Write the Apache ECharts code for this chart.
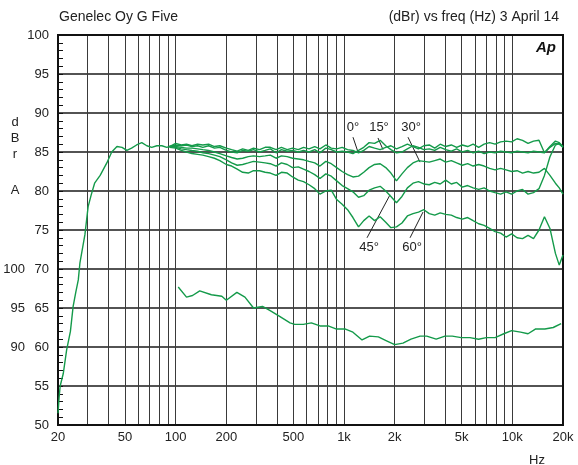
<!DOCTYPE html>
<html>
<head>
<meta charset="utf-8">
<script src="https://cdn.jsdelivr.net/npm/echarts@6/dist/echarts.min.js"></script>
<style>
html,body{margin:0;padding:0;background:#fff;}
#chart{width:578px;height:465px;}
</style>
</head>
<body>
<div id="chart"></div>
<script>
// ---- data ----
const xLabelValues = [20, 50, 100, 200, 500, 1000, 2000, 5000, 10000, 20000];
const xGridValues = [20,30,40,50,60,70,80,90,100,200,300,400,500,600,700,800,900,
  1000,2000,3000,4000,5000,6000,7000,8000,9000,10000,20000];
const secondaryLabels = [90, 95, 100];

// shared low-frequency rise (all angles)
const lowFreq  = [20, 20.3, 20.6, 21.5, 22.5, 23.7, 24.6, 25.5, 26.4, 27, 28.9, 30.2, 31.5, 33, 35.6, 39, 41.7, 44.8, 48, 51.3, 54.7, 58.6, 62.9, 67.4, 72.1, 77.3, 82.8, 88.6, 92];
const lowLevel = [51.5, 53.5, 55, 56.6, 59.6, 62, 65.2, 67, 68.6, 70.8, 74.4, 78, 79.5, 81, 82, 83.6, 85, 85.7, 85.6, 85.2, 85.5, 85.9, 86.2, 85.8, 85.6, 85.8, 85.8, 85.6, 85.7];

const angleFreq = [92,100,108,116,125,135,145,157,170,183,200,215,232,250,270,290,315,340,365,395,425,460,495,535,575,620,670,720,780,840,905,975,1050,1130,1220,1310,1410,1520,1640,1770,1900,2050,2210,2380,2570,2770,2980,3210,3460,3730,4020,4340,4670,5040,5430,5850,6310,6800,7330,7900,8520,9180,9900,10670,11500,12400,13360,14400,15520,16730,18030,19000,20000];

const deg0  = [85.7,86.1,85.9,86.0,85.8,86.0,85.9,86.0,85.7,85.8,85.5,85.3,85.1,85.4,85.2,85.5,85.3,85.6,85.6,85.3,85.6,85.3,85.5,85.3,85.6,85.4,85.7,85.4,85.9,85.5,85.4,85.6,85.3,85.2,84.9,85.2,85.7,85.5,85.3,85.6,85.8,85.4,85.7,86.0,85.7,85.4,85.8,85.9,85.5,86.0,85.7,85.9,85.6,85.9,85.7,86.0,85.6,86.0,86.2,86.0,86.3,86.4,86.3,86.7,86.5,86.1,86.4,86.5,84.9,85.7,86.4,86.2,85.7];
const deg15 = [85.7,85.9,85.8,85.9,85.7,85.8,85.6,85.8,85.5,85.6,85.2,85.0,84.9,85.2,85.1,85.3,85.0,85.2,85.4,84.9,85.3,85.1,85.2,85.0,85.2,85.0,85.3,84.9,85.5,85.3,85.0,85.1,85.0,84.8,85.2,85.6,86.2,86.1,86.5,85.8,85.3,84.9,85.0,85.4,85.8,85.6,85.3,85.4,85.2,85.6,85.3,85.1,85.4,85.0,85.2,84.9,85.1,84.8,85.0,84.9,85.1,85.0,84.9,85.1,85.0,84.9,85.1,85.0,84.9,85.6,86.1,86.0,85.6];
const deg30 = [85.7,85.7,85.6,85.5,85.5,85.4,85.3,85.2,85.0,84.8,84.5,84.3,84.1,84.2,84.4,84.5,84.4,84.5,84.6,84.2,84.5,84.4,84.2,84.1,84.0,83.8,83.6,83.2,83.8,83.5,83.0,82.5,82.1,81.8,81.9,82.4,83.0,83.4,83.5,83.0,82.3,81.3,82.2,83.0,83.6,83.9,83.8,83.7,83.9,84.1,83.7,83.9,83.6,83.3,83.5,83.2,83.4,83.2,82.9,82.7,82.9,82.7,82.5,82.6,82.3,82.5,82.3,82.4,82.9,82.0,81.0,80.4,79.6];
const deg45 = [85.7,85.6,85.4,85.3,85.2,85.1,84.9,84.8,84.6,84.4,84.0,83.6,83.3,83.4,83.6,83.8,83.7,83.6,83.5,83.2,83.6,83.4,83.0,83.1,82.8,82.5,82.1,81.6,82.2,81.9,81.3,80.7,80.3,79.9,79.2,79.4,80.1,80.4,80.6,80.0,79.3,78.5,79.3,80.4,81.0,81.2,80.9,80.8,81.1,80.9,81.4,80.9,81.1,80.5,80.7,80.4,80.2,80.4,80.0,79.8,79.6,79.9,79.6,80.0,80.2,79.6,79.8,80.3,82.0,84.4,85.9,86.1,85.6];
const deg60 = [85.6,85.5,85.2,85.0,84.8,84.7,84.6,84.4,84.2,83.9,83.4,83.2,82.8,82.4,82.3,82.6,82.6,82.4,82.3,82.0,82.4,82.3,81.8,81.4,81.2,80.8,80.3,79.6,80.0,80.1,78.9,78.3,77.6,76.6,75.4,76.2,76.8,76.2,76.7,76.0,75.3,75.4,75.9,76.8,77.1,77.3,77.6,77.1,76.9,77.2,77.0,76.9,76.6,76.4,76.6,76.2,75.8,75.6,75.2,74.8,74.6,74.1,74.5,74.0,73.9,74.3,73.9,75.0,76.7,75.2,72.0,70.5,71.8];

// lower curve, read on the secondary (left-most) scale
const distFreq  = [103.6,116,126,139,163,188,200,231,258,290,328,362,410,478,510,573,640,720,805,903,1020,1130,1280,1420,1600,1790,2000,2240,2500,2830,3100,3530,3980,4400,4970,5600,6300,7000,7900,8900,9900,11200,12400,13700,15600,17500,19500];
const distLevel = [97.7,96.4,96.6,97.2,96.7,96.5,96.0,97.0,96.4,95.0,95.2,94.7,94.0,93.1,92.9,92.9,93.1,92.7,92.7,92.3,92.3,91.9,90.9,91.4,91.3,90.8,90.3,90.5,91.0,91.4,91.4,91.0,91.4,91.4,91.2,91.2,91.0,91.2,91.2,91.7,92.1,91.9,91.7,92.3,92.3,92.5,93.0];

const angleLabels = ['0°', '15°', '30°', '45°', '60°'];

// ---- build ----
const GREEN = '#149a4a';
const FONT = 'Liberation Sans, Arial, Helvetica, sans-serif';
const zip = (xs, ys) => xs.map((x, i) => [x, ys[i]]);
const angleSets = [deg0, deg15, deg30, deg45, deg60];

const lineBase = {
  type: 'line', symbol: 'none', showSymbol: false, smooth: false,
  lineStyle: { color: GREEN, width: 1.4 }, silent: true, animation: false, z: 5
};

const series = angleSets.map((vals, i) => {
  const data = i === 0 ? zip(lowFreq, lowLevel).concat(zip(angleFreq, vals)) : zip(angleFreq, vals);
  return Object.assign({}, lineBase, { name: angleLabels[i], data: data });
});

series.push(Object.assign({}, lineBase, { name: 'lower', yAxisIndex: 1, data: zip(distFreq, distLevel) }));

// annotation leaders & labels (data coordinates)
series[0].markLine = {
  silent: true, symbol: ['none', 'none'], animation: false,
  lineStyle: { color: '#222', width: 1, type: 'solid' }, label: { show: false },
  data: [
    [{ coord: [1131, 86.9] }, { coord: [1211, 85.0] }],
    [{ coord: [1592, 86.8] }, { coord: [1705, 85.3] }],
    [{ coord: [2400, 86.9] }, { coord: [2830, 83.7] }],
    [{ coord: [1370, 74.0] }, { coord: [1876, 79.5] }],
    [{ coord: [2468, 74.0] }, { coord: [2948, 77.3] }]
  ]
};
series[0].markPoint = {
  silent: true, symbol: 'circle', symbolSize: 0, animation: false,
  label: { show: true, position: 'inside', formatter: p => p.name, color: '#222', fontSize: 13, fontFamily: FONT },
  data: [
    { name: angleLabels[0], coord: [1131, 88.1] },
    { name: angleLabels[1], coord: [1614, 88.1] },
    { name: angleLabels[2], coord: [2502, 88.1] },
    { name: angleLabels[3], coord: [1408, 72.8] },
    { name: angleLabels[4], coord: [2536, 72.8] }
  ]
};

const chart = echarts.init(document.getElementById('chart'), null, { renderer: 'canvas' });
chart.setOption({
  animation: false,
  backgroundColor: '#fff',
  grid: { left: 58, right: 15, top: 35, bottom: 40, containLabel: false, outerBoundsMode: 'none',
          show: true, borderColor: '#111', borderWidth: 2, backgroundColor: 'transparent', z: 3 },
  xAxis: {
    type: 'log', logBase: 10, min: 20, max: 20000,
    axisLine: { show: false },
    axisTick: { show: false, customValues: xGridValues },
    axisLabel: { customValues: xLabelValues, color: '#222', fontSize: 13, fontFamily: FONT, margin: 6,
      formatter: v => v >= 1000 ? (v / 1000) + 'k' : String(v) },
    splitLine: { show: true, lineStyle: { color: '#3a3a3a', width: 1 } },
    minorTick: { show: false }, minorSplitLine: { show: false }
  },
  yAxis: [
    {
      type: 'value', min: 50, max: 100, interval: 5, position: 'left',
      axisLine: { show: false },
      axisTick: { show: true, inside: true, length: 5, lineStyle: { color: '#111' } },
      minorTick: { show: true, splitNumber: 5, length: 5, lineStyle: { color: '#111', width: 1 } },
      axisLabel: { color: '#222', fontSize: 13, fontFamily: FONT, margin: 9 },
      splitLine: { show: true, lineStyle: { color: '#1a1a1a', width: 1.6 } }
    },
    {
      type: 'value', min: 80, max: 130, interval: 5, position: 'left', offset: 23,
      axisLine: { show: false }, axisTick: { show: false }, splitLine: { show: false },
      axisLabel: { color: '#222', fontSize: 13, fontFamily: FONT, margin: 10,
        formatter: v => secondaryLabels.indexOf(v) >= 0 ? String(v) : '' }
    }
  ],
  series: series,
  graphic: [
    { type: 'text', x: 59, y: 17, style: { text: 'Genelec Oy G Five', font: '14px ' + FONT, fill: '#222', align: 'left', verticalAlign: 'middle' } },
    { type: 'text', x: 559, y: 17, style: { text: '(dBr) vs freq (Hz) 3 April 14', font: '14px ' + FONT, fill: '#222', align: 'right', verticalAlign: 'middle' } },
    { type: 'text', x: 556, y: 48, z: 10, style: { text: 'Ap', font: 'italic bold 15px ' + FONT, fill: '#111', align: 'right', verticalAlign: 'middle' } },
    { type: 'text', x: 15, y: 122, style: { text: 'd', font: '13px ' + FONT, fill: '#222', align: 'center', verticalAlign: 'middle' } },
    { type: 'text', x: 15, y: 138, style: { text: 'B', font: '13px ' + FONT, fill: '#222', align: 'center', verticalAlign: 'middle' } },
    { type: 'text', x: 15, y: 154, style: { text: 'r', font: '13px ' + FONT, fill: '#222', align: 'center', verticalAlign: 'middle' } },
    { type: 'text', x: 15, y: 190, style: { text: 'A', font: '13px ' + FONT, fill: '#222', align: 'center', verticalAlign: 'middle' } },
    { type: 'text', x: 537, y: 460, style: { text: 'Hz', font: '13px ' + FONT, fill: '#222', align: 'center', verticalAlign: 'middle' } }
  ]
});
</script>
</body>
</html>
